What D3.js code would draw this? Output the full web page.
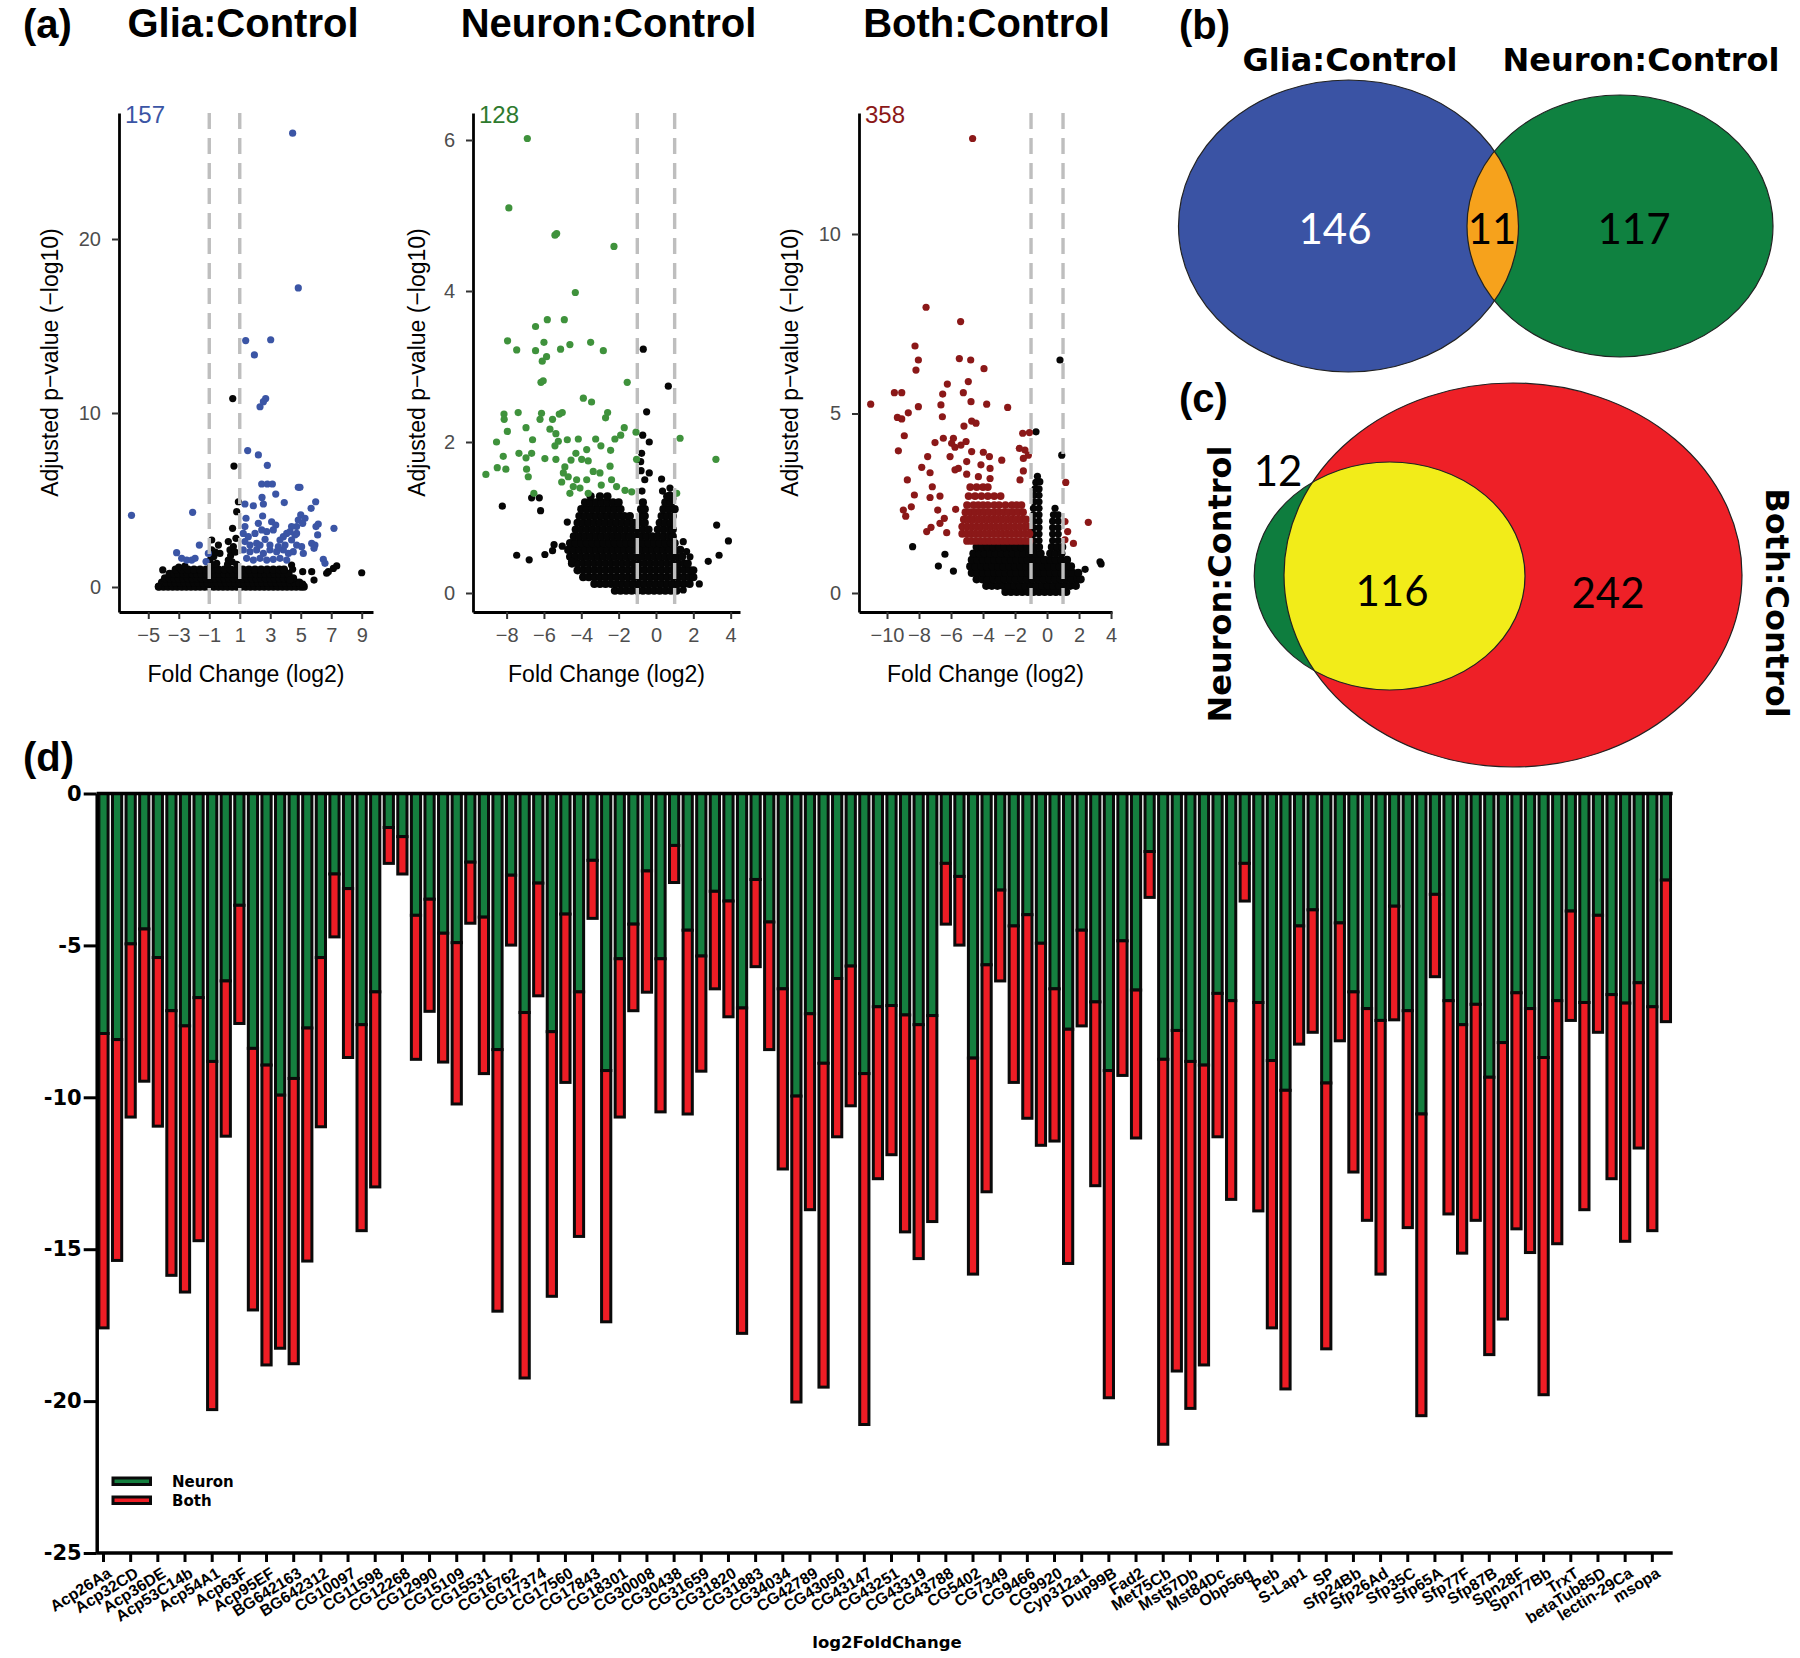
<!DOCTYPE html>
<html>
<head>
<meta charset="utf-8">
<script src="https://cdn.jsdelivr.net/npm/d3@7"></script>
<style>
  body { margin: 0; background: #fff; }
</style>
</head>
<body>
<svg id="fig" width="1800" height="1658"></svg>
<script>
// ---------- (a) volcano data: [log2 fold change, -log10 adj p] ----------
const gliaSig = [[4.47,26.08],[4.84,17.19],[1.39,14.16],[3.03,14.21],[1.96,13.34],[2.70,10.83],[2.33,10.36],[2.55,10.65],[-6.1,4.12],[-2.09,4.29],[1.52,7.84],[2.22,7.59],[2.81,6.99],[2.44,5.92],[2.81,5.92],[3.14,5.92],[4.84,5.73],[4.95,5.73],[3.36,5.34],[2.46,5.15],[1.34,4.77],[1.89,4.67],[2.55,4.77],[3.92,4.85],[5.98,4.90],[5.68,4.52],[5.00,4.14],[5.28,3.95],[4.84,3.85],[5.13,3.66],[4.73,3.47],[4.40,3.47],[6.15,3.62],[6.00,3.47],[7.18,3.37],[1.41,3.95],[2.50,4.08],[2.22,3.66],[1.34,3.47],[3.09,3.75],[3.36,3.56],[4.08,3.08],[4.30,3.18],[4.62,2.99],[3.86,2.89],[6.11,2.99],[1.23,3.08],[1.56,2.89],[2.0,3.08],[2.77,3.18],[3.20,3.28],[3.64,2.70],[2.66,2.74],[2.11,2.51],[5.72,2.51],[5.93,2.41],[5.87,2.22],[4.40,2.70],[4.73,2.41],[5.06,2.32],[4.51,2.03],[5.17,1.93],[-1.65,2.41],[-3.14,1.97],[-2.81,1.65],[-2.48,1.55],[-2.15,1.55],[-1.93,1.65],[-1.21,1.46],[-1.06,1.93],[6.48,1.59],[6.59,1.36],[1.23,2.13],[1.67,2.03],[2.11,2.13],[2.55,1.93],[2.98,2.13],[3.42,2.03],[3.86,2.13],[4.19,1.93],[1.45,1.65],[1.89,1.55],[2.33,1.65],[2.77,1.55],[3.20,1.59],[3.64,1.65],[4.08,1.55],[1.67,2.41],[2.33,2.41],[2.98,2.41],[3.53,2.32],[3.97,2.41],[1.34,2.61],[2.44,3.28],[4.73,3.08]];
const gliaNsPts = [[0.54,10.83],[0.62,6.95],[0.91,4.90],[0.80,4.33],[0.53,3.37],[0.75,2.80],[-0.84,2.70],[-0.40,2.41],[-0.84,2.13],[-0.30,1.93],[0.25,2.61],[0.36,2.13],[0.58,2.32],[0.25,1.55],[-0.95,1.55],[-0.51,1.36],[9.0,0.82],[7.36,1.21],[7.14,1.07],[6.81,0.88],[6.70,0.79],[5.72,0.88],[5.87,0.40],[5.13,0.88],[5.13,0.17],[4.40,1.26],[4.47,1.02],[4.30,0.40],[-4.05,0.98],[-4.34,0.02],[-3.0,1.15],[-2.6,1.2],[-0.9,1.25],[-0.6,1.3],[0.2,1.3],[0.5,1.45],[0.8,1.3],[-0.7,1.75],[0.4,1.8],[0.7,2.0],[-0.6,2.0]];
const gliaNsRows = [
  [0.02, [-4.3,-4.0,-3.7,-3.4,-3.1,-2.8,-2.5,-2.2,-1.9,-1.6,-1.3,-1.0,-0.7,-0.4,-0.1,0.2,0.5,0.8,1.1,1.4,1.7,2.0,2.3,2.6,2.9,3.2,3.5,3.8,4.1,4.4,4.7,5.0,5.2]],
  [0.25, [-4.1,-3.8,-3.5,-3.2,-2.9,-2.6,-2.3,-2.0,-1.7,-1.4,-1.1,-0.8,-0.5,-0.2,0.1,0.4,0.7,1.0,1.3,1.6,1.9,2.2,2.5,2.8,3.1,3.4,3.7,4.0,4.3,4.6,4.9]],
  [0.5, [-3.9,-3.6,-3.3,-3.0,-2.7,-2.4,-2.1,-1.8,-1.5,-1.2,-0.9,-0.6,-0.3,0.0,0.3,0.6,0.9,1.2,1.5,1.8,2.1,2.4,2.7,3.0,3.3,3.6,3.9,4.2,4.5]],
  [0.75, [-3.6,-3.3,-3.0,-2.7,-2.4,-2.1,-1.8,-1.5,-1.2,-0.9,-0.6,-0.3,0.0,0.3,0.6,0.9,1.2,1.5,1.8,2.1,2.4,2.7,3.0,3.3,3.6,3.9,4.2]],
  [1.0, [-3.2,-2.8,-2.4,-2.0,-1.6,-1.2,-0.8,-0.4,0.0,0.4,0.8,1.2,1.6,2.0,2.4,2.8,3.2,3.6,3.9]]
];

const neuronSig = [[-6.89,6.02],[-7.88,5.10],[-5.41,4.74],[-5.32,4.76],[-2.25,4.59],[-4.32,3.98],[-5.82,3.62],[-4.91,3.62],[-6.45,3.53],[-7.95,3.34],[-6.0,3.32],[-4.61,3.29],[-3.5,3.32],[-7.46,3.22],[-6.45,3.21],[-5.11,3.23],[-2.82,3.21],[-5.86,3.13],[-6.09,3.07],[-6.16,2.79],[-6.04,2.81],[-1.54,2.79],[-3.89,2.58],[-3.45,2.53],[-8.14,2.37],[-8.13,2.30],[-7.38,2.39],[-6.13,2.38],[-6.21,2.30],[-5.18,2.37],[-5.02,2.39],[-5.54,2.30],[-2.59,2.39],[-2.70,2.32],[-7.96,2.14],[-6.96,2.19],[-5.68,2.17],[-5.36,2.11],[-1.70,2.19],[-1.07,2.13],[-1.89,2.09],[-8.54,2.0],[-6.61,2.03],[-5.23,2.01],[-4.75,2.03],[-4.16,2.04],[-3.23,2.04],[-2.20,2.04],[1.29,2.05],[-5.41,1.95],[-2.95,1.95],[-3.71,1.90],[-2.43,1.89],[-9.11,1.57],[-8.50,1.66],[-8.04,1.64],[-8.18,1.81],[-7.34,1.85],[-6.66,1.85],[-6.96,1.79],[-5.95,1.78],[-5.36,1.77],[-4.55,1.76],[-4.29,1.85],[-3.98,1.77],[-3.63,1.75],[-1.04,1.77],[3.21,1.77],[-6.93,1.64],[-6.84,1.54],[-4.88,1.67],[-4.96,1.59],[-3.36,1.61],[-3.0,1.59],[-2.46,1.68],[-2.38,1.50],[-5.05,1.47],[-4.70,1.54],[-4.25,1.50],[-3.71,1.50],[-4.43,1.41],[-4.07,1.39],[-2.93,1.43],[-2.11,1.41],[-1.66,1.36],[-1.30,1.34],[-4.61,1.32],[-3.63,1.32],[-6.54,1.32],[1.11,1.32]];
const neuronNsPts = [[-0.68,3.23],[0.66,2.74],[-0.5,2.40],[-0.71,2.09],[-0.36,2.0],[-0.77,1.85],[-0.82,1.74],[-0.36,1.59],[0.30,1.51],[0.75,1.39],[-8.23,1.15],[-6.66,1.26],[-6.25,1.26],[-6.18,1.09],[-7.46,0.50],[-6.79,0.44],[-5.95,0.51],[-5.54,0.56],[-5.46,0.64],[-5.02,0.62],[-4.52,0.42],[-4.75,0.94],[3.25,0.90],[3.88,0.69],[3.38,0.50],[2.80,0.42],[2.32,0.12],[1.46,0.68],[1.64,0.55],[1.82,0.48],[1.46,0.04],[0.35,1.35],[0.75,1.30],[-0.75,1.35],[-0.6,1.5],[-0.8,1.62],[0.9,1.25]];
const neuronNsRows = [
  [0.03, [-2.2,-1.9,-1.6,-1.3,-1.0,-0.7,-0.4,-0.1,0.2,0.5,0.8,1.1]],
  [0.12, [-3.3,-3.0,-2.7,-2.4,-2.1,-1.8,-1.5,-1.2,-0.9,-0.6,-0.3,0.0,0.3,0.6,0.9,1.2,1.5,1.8]],
  [0.21, [-3.9,-3.6,-3.3,-3.0,-2.7,-2.4,-2.1,-1.8,-1.5,-1.2,-0.9,-0.6,-0.3,0.0,0.3,0.6,0.9,1.2,1.5,1.8,2.0]],
  [0.30, [-4.2,-3.9,-3.6,-3.3,-3.0,-2.7,-2.4,-2.1,-1.8,-1.5,-1.2,-0.9,-0.6,-0.3,0.0,0.3,0.6,0.9,1.2,1.5,1.8,2.0]],
  [0.39, [-4.5,-4.2,-3.9,-3.6,-3.3,-3.0,-2.7,-2.4,-2.1,-1.8,-1.5,-1.2,-0.9,-0.6,-0.3,0.0,0.3,0.6,0.9,1.2,1.5,1.7]],
  [0.48, [-4.6,-4.3,-4.0,-3.7,-3.4,-3.1,-2.8,-2.5,-2.2,-1.9,-1.6,-1.3,-1.0,-0.7,-0.4,-0.1,0.2,0.5,0.8,1.1,1.4]],
  [0.57, [-4.7,-4.4,-4.1,-3.8,-3.5,-3.2,-2.9,-2.6,-2.3,-2.0,-1.7,-1.4,-1.1,-0.8,-0.5,-0.2,0.1,0.4,0.7,1.0,1.3]],
  [0.66, [-4.6,-4.3,-4.0,-3.7,-3.4,-3.1,-2.8,-2.5,-2.2,-1.9,-1.6,-1.3,-1.0,-0.7,-0.4,-0.1,0.2,0.5,0.8,1.0]],
  [0.75, [-4.4,-4.1,-3.8,-3.5,-3.2,-2.9,-2.6,-2.3,-2.0,-1.7,-1.4,-1.1,-0.8,-0.5,-0.2,0.1,0.4,0.7,0.9]],
  [0.84, [-4.3,-4.0,-3.7,-3.4,-3.1,-2.8,-2.5,-2.2,-1.9,-1.6,-1.3,-1.0,-0.7,-0.4,0.1,0.4,0.7,0.9]],
  [0.93, [-4.2,-3.9,-3.6,-3.3,-3.0,-2.7,-2.4,-2.1,-1.8,-1.5,-1.2,-0.9,-0.6,0.2,0.5,0.8]],
  [1.02, [-4.1,-3.8,-3.5,-3.2,-2.9,-2.6,-2.3,-2.0,-1.7,-1.4,-0.8,-0.6,0.3,0.6,0.9]],
  [1.11, [-4.0,-3.7,-3.4,-3.1,-2.8,-2.5,-2.2,-1.9,-0.8,-0.6,0.4,0.7,1.0]],
  [1.20, [-3.8,-3.5,-3.2,-2.9,-2.6,-2.3,-2.0,-0.7,0.5,0.8]],
  [1.28, [-3.5,-3.0,-2.6,0.6]]
];

const bothSig = [[-4.65,12.66],[-7.56,7.96],[-5.40,7.56],[-8.25,6.88],[-8.04,6.49],[-8.19,6.21],[-5.48,6.53],[-4.77,6.49],[-3.94,6.25],[-4.92,5.89],[-6.23,5.82],[-6.52,5.54],[-5.23,5.58],[-9.54,5.58],[-9.08,5.58],[-11.02,5.26],[-6.63,5.24],[-8.04,5.19],[-4.75,5.33],[-3.77,5.26],[-2.46,5.17],[-8.67,5.02],[-9.35,4.89],[-9.08,4.85],[-6.54,4.91],[-4.71,4.79],[-4.44,4.73],[-5.19,4.65],[-8.92,4.38],[-1.52,4.45],[-1.1,4.47],[-7.0,4.19],[-6.48,4.31],[-5.85,4.31],[-5.96,4.17],[-5.06,4.22],[-5.75,4.06],[-5.38,4.12],[-9.29,3.96],[-7.46,3.80],[-6.06,3.80],[-4.71,3.94],[-3.98,3.92],[-3.60,3.80],[-2.83,3.70],[-5.02,3.66],[-1.73,4.03],[-1.38,3.98],[-1.17,3.84],[-1.48,3.75],[-7.83,3.50],[-7.31,3.35],[-5.75,3.43],[-5.54,3.47],[-5.02,3.31],[-4.13,3.57],[-3.56,3.47],[-4.29,3.24],[-3.56,3.19],[-1.48,3.40],[-1.69,3.15],[1.17,3.08],[-8.73,3.15],[-7.17,2.96],[-8.29,2.73],[-7.31,2.66],[-6.69,2.70],[-8.48,2.40],[-8.98,2.31],[-8.83,2.14],[-6.83,2.31],[-6.42,2.08],[-6.69,1.94],[-7.25,1.83],[-7.52,1.71],[-6.27,1.68],[-5.71,2.33],[1.12,1.99],[2.58,1.97],[1.29,1.71],[1.65,1.38],[1.12,1.48]];
const bothSigRows = [
  [1.45, [-5.0,-4.72,-4.44,-4.16,-3.88,-3.6,-3.32,-3.04,-2.76,-2.48,-2.2,-1.92,-1.64,-1.36,-1.1]],
  [1.65, [-5.3,-5.02,-4.74,-4.46,-4.18,-3.9,-3.62,-3.34,-3.06,-2.78,-2.5,-2.22,-1.94,-1.66,-1.38,-1.1]],
  [1.85, [-5.3,-5.0,-4.7,-4.4,-4.1,-3.8,-3.5,-3.2,-2.9,-2.6,-2.3,-2.0,-1.7,-1.4,-1.15]],
  [2.05, [-5.2,-4.9,-4.6,-4.3,-4.0,-3.7,-3.4,-3.1,-2.8,-2.5,-2.2,-1.9,-1.6,-1.3]],
  [2.25, [-5.1,-4.8,-4.5,-4.2,-3.9,-3.6,-3.3,-3.0,-2.7,-2.4,-2.1,-1.8,-1.5]],
  [2.45, [-5.0,-4.6,-4.3,-4.0,-3.7,-3.3,-3.0,-2.6,-2.2,-1.9,-1.6]],
  [2.7, [-4.9,-4.5,-4.1,-3.7,-3.3,-2.9]],
  [2.95, [-4.8,-4.4,-4.0,-3.7]]
];
const bothNsPts = [[0.81,6.49],[-0.69,4.49],[0.92,3.84],[-8.40,1.29],[-6.38,1.08],[-6.79,0.75],[-5.85,0.61],[3.31,0.87],[3.38,0.81],[2.38,0.66],[-0.85,1.46],[-0.5,1.46],[-0.85,1.64],[-0.5,1.64],[-0.85,1.82],[-0.5,1.82],[-0.85,2.0],[-0.5,2.0],[-0.85,2.18],[-0.5,2.18],[-0.85,2.36],[-0.5,2.36],[-0.8,2.54],[-0.5,2.54],[-0.8,2.72],[-0.5,2.72],[-0.75,2.9],[-0.5,2.9],[-0.7,3.08],[-0.45,3.1],[-0.6,3.25],[0.35,1.46],[0.7,1.46],[0.35,1.64],[0.7,1.64],[0.35,1.82],[0.7,1.82],[0.35,2.0],[0.7,2.0],[0.4,2.18],[0.7,2.18],[0.5,2.36]];
const bothNsRows = [
  [0.03, [-2.6,-2.25,-1.9,-1.55,-1.2,-0.85,-0.5,-0.15,0.2,0.55,0.9,1.2]],
  [0.2, [-3.8,-3.45,-3.1,-2.75,-2.4,-2.05,-1.7,-1.35,-1.0,-0.65,-0.3,0.05,0.4,0.75,1.1,1.45,1.8]],
  [0.38, [-4.4,-4.05,-3.7,-3.35,-3.0,-2.65,-2.3,-1.95,-1.6,-1.25,-0.9,-0.55,-0.2,0.15,0.5,0.85,1.2,1.55,1.9,2.1]],
  [0.56, [-4.7,-4.35,-4.0,-3.65,-3.3,-2.95,-2.6,-2.25,-1.9,-1.55,-1.2,-0.85,-0.5,-0.15,0.2,0.55,0.9,1.25,1.6,1.95]],
  [0.74, [-4.8,-4.45,-4.1,-3.75,-3.4,-3.05,-2.7,-2.35,-2.0,-1.65,-1.3,-0.95,-0.6,-0.25,0.1,0.45,0.8,1.15,1.5]],
  [0.92, [-4.7,-4.35,-4.0,-3.65,-3.3,-2.95,-2.6,-2.25,-1.9,-1.55,-1.2,-0.85,-0.5,-0.15,0.2,0.55,0.9,1.25]],
  [1.1, [-4.6,-4.25,-3.9,-3.55,-3.2,-2.85,-2.5,-2.15,-1.8,-1.45,-1.1,-0.75,-0.4,0.2,0.55,0.9]],
  [1.28, [-4.4,-4.05,-3.7,-3.35,-3.0,-2.65,-2.3,-1.95,-1.6,-1.25,-0.8,-0.5,0.3,0.65,0.95]]
];

// ---------- (b), (c) Venn counts ----------
const vennBSets = ["Glia:Control", "Neuron:Control"];
const vennBCounts = [146, 11, 117];
const vennCSets = ["Neuron:Control", "Both:Control"];
const vennCCounts = [12, 116, 242];

// ---------- (d) shared genes, log2 fold change ----------
const geneLabels = ["Acp26Aa","Acp32CD","Acp36DE","Acp53C14b","Acp54A1","Acp63F","Acp95EF","BG642163","BG642312","CG10097","CG11598","CG12268","CG12990","CG15109","CG15531","CG16762","CG17374","CG17560","CG17843","CG18301","CG30008","CG30438","CG31659","CG31820","CG31883","CG34034","CG42789","CG43050","CG43147","CG43251","CG43319","CG43788","CG5402","CG7349","CG9466","CG9920","Cyp312a1","Dup99B","Fad2","Met75Cb","Mst57Db","Mst84Dc","Obp56g","Peb","S-Lap1","SP","Sfp24Bb","Sfp26Ad","Sfp35C","Sfp65A","Sfp77F","Sfp87B","Spn28F","Spn77Bb","TrxT","betaTub85D","lectin-29Ca","msopa"];
// green segment: 0 -> neuron; red segment: neuron -> both
const neuronFC = [-7.9,-8.1,-4.95,-4.46,-5.4,-7.15,-7.65,-6.72,-8.82,-6.17,-3.68,-8.39,-8.94,-9.93,-9.38,-7.72,-5.4,-2.65,-3.13,-7.61,-6.53,-1.12,-1.42,-4.01,-3.48,-4.6,-4.91,-2.26,-4.07,-8.43,-2.69,-7.21,-2.95,-7.84,-3.97,-6.53,-2.2,-9.12,-5.44,-4.3,-2.55,-5.44,-1.71,-4.5,-5.35,-3.22,-3.54,-7.06,-2.83,-4.23,-6.43,-9.96,-7.25,-8.88,-6.09,-5.68,-9.22,-7.02,-6.98,-7.29,-7.61,-7.31,-2.3,-2.73,-8.71,-5.64,-3.18,-4.36,-3.99,-4.93,-6.43,-7.76,-4.5,-6.86,-9.12,-4.85,-6.47,-1.91,-8.75,-7.8,-8.82,-8.94,-6.58,-6.82,-2.3,-6.88,-8.79,-9.77,-4.36,-3.83,-9.53,-4.26,-6.53,-7.08,-7.47,-3.71,-7.15,-10.55,-3.32,-6.82,-7.61,-6.94,-9.34,-8.2,-6.56,-7.08,-8.69,-6.82,-3.87,-6.88,-4.01,-6.62,-6.9,-6.23,-7.02,-2.85];
const bothFC = [-17.59,-15.37,-10.65,-9.47,-10.95,-15.86,-16.41,-14.72,-20.28,-11.28,-7.57,-17.0,-18.81,-18.26,-18.77,-15.39,-10.97,-4.72,-8.69,-14.39,-12.95,-2.3,-2.65,-8.75,-7.17,-8.84,-10.22,-4.27,-9.22,-17.04,-4.99,-19.24,-6.66,-16.55,-9.51,-14.58,-4.11,-17.39,-10.65,-7.15,-6.54,-10.48,-2.93,-10.55,-9.14,-6.43,-7.35,-17.77,-5.7,-8.43,-12.36,-20.03,-13.7,-19.54,-11.3,-10.28,-20.77,-12.68,-11.89,-14.43,-15.31,-14.09,-4.3,-4.99,-15.82,-13.11,-6.17,-9.51,-10.69,-11.58,-11.44,-15.47,-7.65,-12.91,-19.89,-9.28,-11.34,-3.42,-21.42,-19.01,-20.24,-18.81,-11.3,-13.36,-3.54,-13.74,-17.59,-19.6,-8.25,-7.86,-18.28,-8.14,-12.46,-14.05,-15.82,-7.45,-14.29,-20.48,-6.03,-13.84,-15.13,-14.05,-18.47,-17.3,-14.33,-15.11,-19.79,-14.82,-7.47,-13.7,-7.86,-12.68,-14.74,-11.67,-14.39,-7.51];

const ARIAL = "'Liberation Sans', Arial, sans-serif";
const VERD = "'DejaVu Sans', Verdana, sans-serif";
const CAL = "Lato, 'Open Sans', sans-serif";

const svg = d3.select("#fig");
svg.append("rect").attr("width", 1800).attr("height", 1658).attr("fill", "#fff");

const flat = (rows) => rows.flatMap(([yv, xs]) => xs.map((xv) => [xv, yv]));

function panelLabel(txt, x, y) {
  svg.append("text").attr("x", x).attr("y", y).text(txt)
    .attr("font-family", ARIAL).attr("font-weight", "bold").attr("font-size", 40);
}

// ---------- volcano panels ----------
const TOP = 113, BOT = 612;

function volcano(p) {
  const x = d3.scaleLinear().domain(p.xDom).range([p.x0, p.x1]);
  const y = d3.scaleLinear().domain(p.yDom).range([BOT, TOP]);
  const g = svg.append("g");

  g.append("text").attr("x", (p.x0 + p.x1) / 2 + p.titleDx).attr("y", 37)
    .attr("text-anchor", "middle").attr("font-family", ARIAL)
    .attr("font-weight", "bold").attr("font-size", 40).text(p.title);

  // dense rows get a slightly larger dot so the cloud reads solid
  const dot = (sel, data, r, fill) => sel.append("g").selectAll("circle").data(data).join("circle")
    .attr("cx", (d) => x(d[0])).attr("cy", (d) => y(d[1])).attr("r", r).attr("fill", fill);
  dot(g, p.nsRows, 4.1, "#060606");
  dot(g, p.ns, 3.6, "#060606");
  dot(g, p.sigRows, 3.9, p.color);
  dot(g, p.sig, 3.6, p.color);

  g.selectAll("line.fc").data([-1, 1]).join("line").attr("class", "fc")
    .attr("x1", (d) => x(d)).attr("x2", (d) => x(d))
    .attr("y1", TOP).attr("y2", BOT)
    .attr("stroke", "#BEBEBE").attr("stroke-width", 3.4)
    .attr("stroke-dasharray", "16,9");

  const ax = g.append("g").attr("transform", `translate(0,${BOT})`)
    .call(d3.axisBottom(x).tickValues(p.xTicks).tickFormat(d3.format("d"))
      .tickSize(7).tickPadding(9).tickSizeOuter(0));
  const ay = g.append("g").attr("transform", `translate(${p.x0},0)`)
    .call(d3.axisLeft(y).tickValues(p.yTicks).tickFormat(d3.format("d"))
      .tickSize(7).tickPadding(11).tickSizeOuter(0));
  for (const a of [ax, ay]) {
    a.select(".domain").attr("stroke", "#000").attr("stroke-width", 2.8);
    a.selectAll(".tick line").attr("stroke", "#333").attr("stroke-width", 2);
    a.selectAll(".tick text").attr("fill", "#4D4D4D")
      .attr("font-family", ARIAL).attr("font-size", 20);
  }

  g.append("text").attr("x", (p.x0 + p.x1) / 2).attr("y", 682)
    .attr("text-anchor", "middle").attr("font-family", ARIAL).attr("font-size", 23)
    .text("Fold Change (log2)");
  g.append("text").attr("transform", `translate(${p.yLabX},${(TOP + BOT) / 2}) rotate(-90)`)
    .attr("text-anchor", "middle").attr("dy", "0.36em")
    .attr("font-family", ARIAL).attr("font-size", 23)
    .text("Adjusted p\u2212value (\u2212log10)");

  g.append("text").attr("x", p.x0 + 6).attr("y", TOP + 10)
    .attr("font-family", ARIAL).attr("font-size", 24)
    .attr("fill", p.countColor).text(p.count);
}

volcano({
  title: "Glia:Control", titleDx: -3, x0: 119, x1: 373,
  xDom: [-6.92, 9.74], yDom: [(587 - BOT) / 17.4, (587 - TOP) / 17.4],
  xTicks: [-5, -3, -1, 1, 3, 5, 7, 9], yTicks: [0, 10, 20],
  ns: gliaNsPts, nsRows: flat(gliaNsRows), sig: gliaSig, sigRows: [],
  color: "#3B55A5", countColor: "#3B55A5", count: "157", yLabX: 50
});
volcano({
  title: "Neuron:Control", titleDx: 2, x0: 473, x1: 740,
  xDom: [-9.8, 4.5], yDom: [(593 - BOT) / 75.5, (593 - TOP) / 75.5],
  xTicks: [-8, -6, -4, -2, 0, 2, 4], yTicks: [0, 2, 4, 6],
  ns: neuronNsPts, nsRows: flat(neuronNsRows), sig: neuronSig, sigRows: [],
  color: "#3F923C", countColor: "#2E7A2E", count: "128", yLabX: 417
});
volcano({
  title: "Both:Control", titleDx: 1, x0: 859, x1: 1112,
  xDom: [-11.75, 4.06], yDom: [(593 - BOT) / 35.9, (593 - TOP) / 35.9],
  xTicks: [-10, -8, -6, -4, -2, 0, 2, 4], yTicks: [0, 5, 10],
  ns: bothNsPts, nsRows: flat(bothNsRows), sig: bothSig, sigRows: flat(bothSigRows),
  color: "#8B1818", countColor: "#8B1818", count: "358", yLabX: 790
});
panelLabel("(a)", 23, 38);

// ---------- (b) Venn ----------
panelLabel("(b)", 1179, 39);
const defs = svg.append("defs");
const vb = [
  { cx: 1348.5, cy: 226, rx: 170, ry: 146, fill: "#3A53A4" },
  { cx: 1620, cy: 226, rx: 153, ry: 131, fill: "#0F8140" }
];
defs.append("clipPath").attr("id", "clipB").append("ellipse")
  .attr("cx", vb[1].cx).attr("cy", vb[1].cy).attr("rx", vb[1].rx).attr("ry", vb[1].ry);
const gb = svg.append("g");
gb.selectAll("ellipse.f").data(vb).join("ellipse").attr("class", "f")
  .attr("cx", (d) => d.cx).attr("cy", (d) => d.cy).attr("rx", (d) => d.rx).attr("ry", (d) => d.ry)
  .attr("fill", (d) => d.fill);
gb.append("ellipse").attr("clip-path", "url(#clipB)")
  .attr("cx", vb[0].cx).attr("cy", vb[0].cy).attr("rx", vb[0].rx).attr("ry", vb[0].ry)
  .attr("fill", "#F6A21C");
gb.selectAll("ellipse.o").data(vb).join("ellipse").attr("class", "o")
  .attr("cx", (d) => d.cx).attr("cy", (d) => d.cy).attr("rx", (d) => d.rx).attr("ry", (d) => d.ry)
  .attr("fill", "none").attr("stroke", "#222").attr("stroke-width", 1.2);
gb.selectAll("text.t").data(vennBSets).join("text").attr("class", "t")
  .attr("x", (d, i) => [1350, 1641][i]).attr("y", 71).attr("text-anchor", "middle")
  .attr("font-family", VERD).attr("font-weight", "bold").attr("font-size", 32).text((d) => d);
gb.selectAll("text.n").data(vennBCounts).join("text").attr("class", "n")
  .attr("x", (d, i) => [1335, 1492, 1634][i]).attr("y", 244).attr("text-anchor", "middle")
  .attr("font-family", CAL).attr("font-size", 42)
  .attr("fill", (d, i) => (i === 0 ? "#fff" : "#000")).text((d) => d);

// ---------- (c) Venn ----------
panelLabel("(c)", 1179, 412);
const vc = [
  { cx: 1513, cy: 575, rx: 229, ry: 192, fill: "#EE2027" },
  { cx: 1389.6, cy: 576, rx: 135.4, ry: 114, fill: "#0E7D3E" }
];
defs.append("clipPath").attr("id", "clipC").append("ellipse")
  .attr("cx", vc[0].cx).attr("cy", vc[0].cy).attr("rx", vc[0].rx).attr("ry", vc[0].ry);
const gc = svg.append("g");
gc.selectAll("ellipse.f").data(vc).join("ellipse").attr("class", "f")
  .attr("cx", (d) => d.cx).attr("cy", (d) => d.cy).attr("rx", (d) => d.rx).attr("ry", (d) => d.ry)
  .attr("fill", (d) => d.fill);
gc.append("ellipse").attr("clip-path", "url(#clipC)")
  .attr("cx", vc[1].cx).attr("cy", vc[1].cy).attr("rx", vc[1].rx).attr("ry", vc[1].ry)
  .attr("fill", "#F2EC19");
gc.selectAll("ellipse.o").data(vc).join("ellipse").attr("class", "o")
  .attr("cx", (d) => d.cx).attr("cy", (d) => d.cy).attr("rx", (d) => d.rx).attr("ry", (d) => d.ry)
  .attr("fill", "none").attr("stroke", "#222").attr("stroke-width", 1.2);
gc.append("text").attr("transform", "translate(1219,584) rotate(-90)").attr("dy", "0.36em")
  .attr("text-anchor", "middle").attr("font-family", VERD).attr("font-weight", "bold")
  .attr("font-size", 32).text(vennCSets[0]);
gc.append("text").attr("transform", "translate(1778,603) rotate(90)").attr("dy", "0.36em")
  .attr("text-anchor", "middle").attr("font-family", VERD).attr("font-weight", "bold")
  .attr("font-size", 32).text(vennCSets[1]);
gc.selectAll("text.n").data(vennCCounts).join("text").attr("class", "n")
  .attr("x", (d, i) => [1278, 1392, 1608][i]).attr("y", (d, i) => [486, 606, 608][i])
  .attr("text-anchor", "middle").attr("font-family", CAL).attr("font-size", 42)
  .text((d) => d);

// ---------- (d) bar chart ----------
panelLabel("(d)", 23, 771);
const xb = d3.scaleBand().domain(d3.range(neuronFC.length))
  .range([96.7, 1672.7]).paddingInner(0.1).paddingOuter(0.05);
const yb = d3.scaleLinear().domain([-25, 0]).range([1553, 793.5]);
const bw = xb.bandwidth();
const gd = svg.append("g");
const bars = gd.selectAll("g.bar").data(neuronFC.map((n, i) => ({ i, n, b: bothFC[i] })))
  .join("g").attr("class", "bar");
bars.append("rect").attr("x", (d) => xb(d.i) + 1.5).attr("width", bw - 3)
  .attr("y", yb(0)).attr("height", (d) => yb(d.n) - yb(0))
  .attr("fill", "#157F3F").attr("stroke", "#0a0a0a").attr("stroke-width", 3);
bars.append("rect").attr("x", (d) => xb(d.i) + 1.5).attr("width", bw - 3)
  .attr("y", (d) => yb(d.n)).attr("height", (d) => yb(d.b) - yb(d.n))
  .attr("fill", "#EE1D25").attr("stroke", "#0a0a0a").attr("stroke-width", 3);

gd.append("line").attr("x1", 96.7).attr("x2", 1672.7).attr("y1", yb(0)).attr("y2", yb(0))
  .attr("stroke", "#000").attr("stroke-width", 3.5);
const yAx = gd.append("g").attr("transform", "translate(96.7,0)")
  .call(d3.axisLeft(yb).tickValues([0, -5, -10, -15, -20, -25]).tickSize(13).tickPadding(2)
    .tickSizeOuter(0).tickFormat((d) => String(d)));
const xAx = gd.append("g").attr("transform", `translate(0,${yb(-25)})`)
  .call(d3.axisBottom(xb).tickValues(d3.range(0, neuronFC.length, 2)).tickSize(9)
    .tickSizeOuter(0).tickFormat((i) => geneLabels[i / 2]));
for (const a of [yAx, xAx]) {
  a.select(".domain").attr("stroke", "#000").attr("stroke-width", 3.5);
  a.selectAll(".tick line").attr("stroke", "#000").attr("stroke-width", 3);
}
xAx.select(".domain").attr("d", "M96.7,0H1672.7");
yAx.selectAll(".tick text").attr("font-family", VERD).attr("font-weight", "bold")
  .attr("font-size", 21).attr("fill", "#000");
xAx.selectAll(".tick text").attr("y", null).attr("dy", null)
  .attr("transform", "translate(9,23) rotate(-32)").attr("text-anchor", "end")
  .attr("font-family", ARIAL).attr("font-weight", "bold").attr("font-size", 16)
  .attr("fill", "#000");

gd.append("text").attr("x", 887).attr("y", 1648).attr("text-anchor", "middle")
  .attr("font-family", VERD).attr("font-weight", "bold").attr("font-size", 16.5)
  .text("log2FoldChange");

const legend = [{ k: "Neuron", c: "#157F3F" }, { k: "Both", c: "#EE1D25" }];
const lg = gd.selectAll("g.lg").data(legend).join("g").attr("class", "lg")
  .attr("transform", (d, i) => `translate(113,${1478 + i * 19})`);
lg.append("rect").attr("width", 37.5).attr("height", 6.5)
  .attr("fill", (d) => d.c).attr("stroke", "#0a0a0a").attr("stroke-width", 3);
lg.append("text").attr("x", 59).attr("y", 9).attr("font-family", VERD)
  .attr("font-weight", "bold").attr("font-size", 15).text((d) => d.k);
</script>
</body>
</html>
